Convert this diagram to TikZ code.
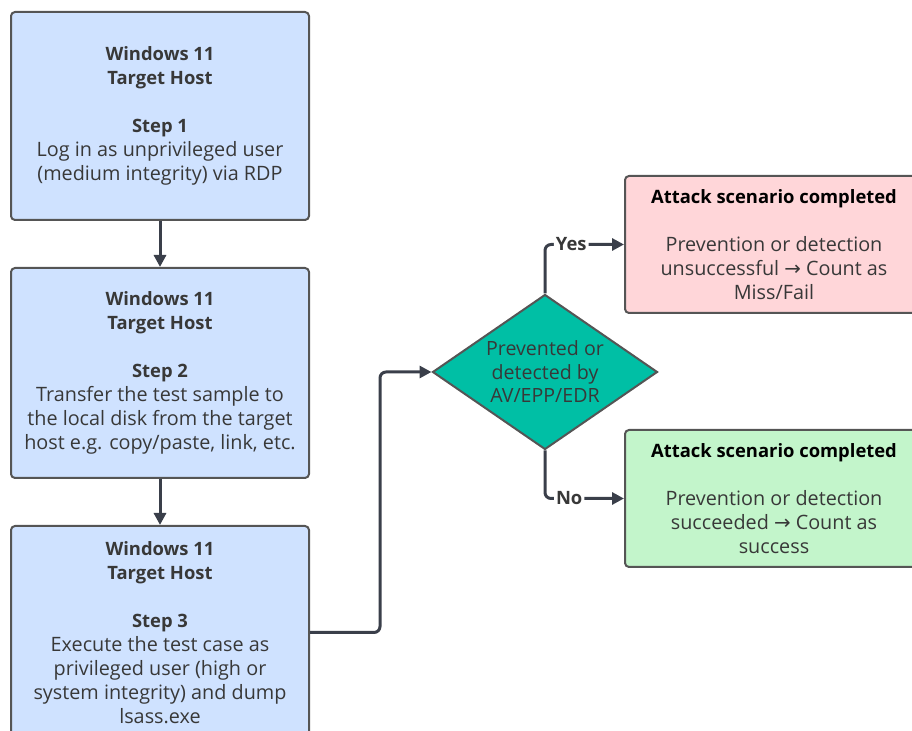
\documentclass[tikz,border=0pt]{standalone}
\usepackage{fontspec}
\setmainfont{Open Sans}
\newfontfamily\arrowfont{DejaVu Sans}
\usetikzlibrary{shapes.geometric,arrows.meta}
\definecolor{hostblue}{HTML}{CFE2FF}
\definecolor{missred}{HTML}{FFD6D9}
\definecolor{okgreen}{HTML}{C3F5CB}
\definecolor{decteal}{HTML}{00BFA5}
\definecolor{edgegray}{HTML}{555555}
\definecolor{wire}{HTML}{3A3F4A}
\definecolor{txt}{HTML}{383838}
\newcommand{\ra}{{\arrowfont\char"2192}}
\newcommand{\hd}[1]{{\fontsize{9.2}{12}\selectfont\bfseries #1}}
\tikzset{
  box/.style={draw=edgegray, line width=1pt, rounded corners=2pt, align=center,
    text=txt, minimum width=149pt, font=\fontsize{9.9}{12}\selectfont},
  host/.style={box, fill=hostblue},
  result/.style={box, minimum height=68.5pt},
  decision/.style={diamond, draw=edgegray, line width=1pt, fill=decteal, align=center,
    text=txt, aspect=1.45, inner sep=0pt, minimum width=112.5pt, minimum height=77.5pt,
    font=\fontsize{9.8}{11.75}\selectfont},
  flow/.style={draw=wire, line width=1.5pt, rounded corners=3pt,
    -{Triangle[length=6pt,width=6pt]}},
  lbl/.style={fill=white, inner sep=1pt, text=txt, font=\fontsize{9.2}{11}\selectfont\bfseries}
}
\begin{document}
\begin{tikzpicture}[x=0.5pt,y=-0.5pt]
\useasboundingbox (0,0) rectangle (912,731);

\node[host, minimum height=104pt] (s1) at (160,116)
  {\hd{Windows 11}\\\hd{Target Host}\\[12pt]\hd{Step 1}\\
   Log in as unprivileged user\\(medium integrity) via RDP};
\node[host, minimum height=105pt] (s2) at (160,373)
  {\hd{Windows 11}\\\hd{Target Host}\\[12pt]\hd{Step 2}\\
   Transfer the test sample to\\the local disk from the target\\host e.g. copy/paste, link, etc.};
\node[host, minimum height=106.5pt] (s3) at (160,632.5)
  {\hd{Windows 11}\\\hd{Target Host}\\[12pt]\hd{Step 3}\\
   Execute the test case as\\privileged user (high or\\system integrity) and dump\\lsass.exe};

\node[decision] (dec) at (545,372) {Prevented or\\detected by\\AV/EPP/EDR};

\node[result, fill=missred] (miss) at (774,244.5)
  {\textcolor{black}{\hd{Attack scenario completed}}\\[12pt]
   Prevention or detection\\unsuccessful \ra{} Count as\\Miss/Fail};
\node[result, fill=okgreen] (ok) at (774,498.5)
  {\textcolor{black}{\hd{Attack scenario completed}}\\[12pt]
   Prevention or detection\\succeeded \ra{} Count as\\success};

\draw[flow] (s1) -- (s2);
\draw[flow] (s2) -- (s3);
\draw[flow] (s3.east) -- ++(70,0) |- (dec.west);
\draw[flow] (dec.north) |- node[lbl, pos=0.666] {Yes} (miss.west);
\draw[flow] (dec.south) |- node[lbl, pos=0.653] {No} (ok.west);
\end{tikzpicture}
\end{document}
